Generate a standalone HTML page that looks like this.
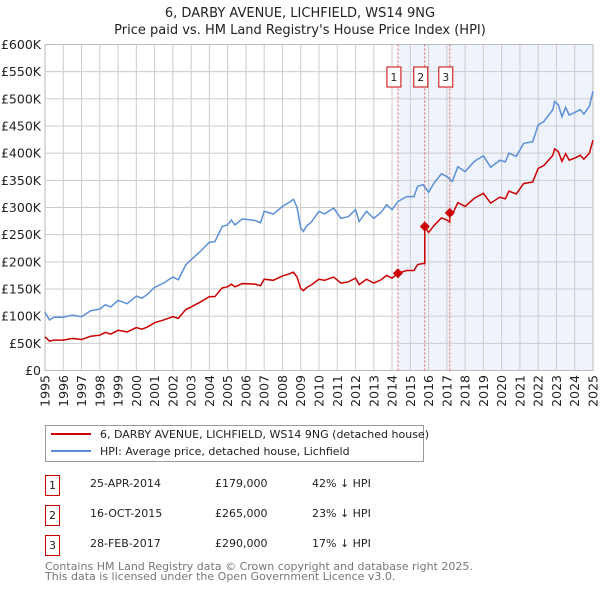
<!DOCTYPE html>
<html><head><meta charset="utf-8"><style>
body{margin:0;background:#fff;font-family:"Liberation Sans","DejaVu Sans",sans-serif;}
svg text{font-family:"DejaVu Sans","Liberation Sans",sans-serif;}
</style></head><body>
<svg id="c" width="600" height="590" viewBox="0 0 600 590" xmlns="http://www.w3.org/2000/svg">
<text x="300" y="17" text-anchor="middle" font-size="13" fill="#222">6, DARBY AVENUE, LICHFIELD, WS14 9NG</text>
<text x="300" y="34" text-anchor="middle" font-size="13" fill="#222">Price paid vs. HM Land Registry's House Price Index (HPI)</text>
<g id="plot"></g>
<g>
<rect x="45.5" y="425.5" width="378" height="36" fill="#fff" stroke="#999"/>
<line x1="51" y1="434" x2="91" y2="434" stroke="#cc0000" stroke-width="2"/>
<text x="100" y="438" font-size="11" fill="#222">6, DARBY AVENUE, LICHFIELD, WS14 9NG (detached house)</text>
<line x1="51" y1="451" x2="91" y2="451" stroke="#5b8fd4" stroke-width="2"/>
<text x="100" y="455" font-size="11" fill="#222">HPI: Average price, detached house, Lichfield</text>
</g>
<g font-size="11" fill="#222">
<rect x="45.5" y="475.5" width="14" height="20" fill="none" stroke="#cc0000"/><text x="52.5" y="489" text-anchor="middle">1</text>
<text x="90" y="487">25-APR-2014</text><text x="215" y="487">£179,000</text><text x="312" y="487">42% ↓ HPI</text>
<rect x="45.5" y="505.5" width="14" height="20" fill="none" stroke="#cc0000"/><text x="52.5" y="519" text-anchor="middle">2</text>
<text x="90" y="517">16-OCT-2015</text><text x="215" y="517">£265,000</text><text x="312" y="517">23% ↓ HPI</text>
<rect x="45.5" y="535.5" width="14" height="20" fill="none" stroke="#cc0000"/><text x="52.5" y="549" text-anchor="middle">3</text>
<text x="90" y="547">28-FEB-2017</text><text x="215" y="547">£290,000</text><text x="312" y="547">17% ↓ HPI</text>
</g>
<text x="45" y="570" font-size="11" fill="#777">Contains HM Land Registry data © Crown copyright and database right 2025.</text>
<text x="45" y="580" font-size="11" fill="#777">This data is licensed under the Open Government Licence v3.0.</text>
</svg>
<script>
const hpiYears=[1995,1995.25,1995.5,1996,1996.5,1997,1997.5,1998,1998.3,1998.6,1999,1999.5,2000,2000.3,2000.6,2001,2001.5,2002,2002.3,2002.7,2003,2003.5,2004,2004.3,2004.7,2005,2005.2,2005.4,2005.8,2006.5,2006.8,2007,2007.5,2008,2008.3,2008.6,2008.8,2009,2009.15,2009.3,2009.6,2010,2010.3,2010.8,2011.2,2011.6,2012,2012.2,2012.6,2013,2013.4,2013.7,2014,2014.32,2014.8,2015.2,2015.4,2015.7,2016,2016.3,2016.7,2017,2017.3,2017.6,2018,2018.5,2019,2019.4,2019.9,2020.2,2020.4,2020.8,2021.2,2021.7,2022,2022.3,2022.8,2022.9,2023.1,2023.3,2023.5,2023.7,2024,2024.3,2024.5,2024.8,2025];
const hpiValues=[107,93,98,98,102,99,110,113,121,117,129,123,137,133,140,153,161,172,167,194,204,219,236,237,265,268,277,268,279,276,272,293,288,302,308,315,300,262,256,265,274,293,288,299,280,283,296,274,293,280,291,305,296,311,320,320,339,342,328,345,362,357,348,375,366,385,395,374,387,384,400,394,418,421,452,458,480,495,489,467,484,470,475,480,472,486,514];
const priceYears=[1995,1995.25,1995.5,1996,1996.5,1997,1997.5,1998,1998.3,1998.6,1999,1999.5,2000,2000.3,2000.6,2001,2001.5,2002,2002.3,2002.7,2003,2003.5,2004,2004.3,2004.7,2005,2005.2,2005.4,2005.8,2006.5,2006.8,2007,2007.5,2008,2008.3,2008.6,2008.8,2009,2009.15,2009.3,2009.6,2010,2010.3,2010.8,2011.2,2011.6,2012,2012.2,2012.6,2013,2013.4,2013.7,2014,2014.32,2014.8,2015.2,2015.4,2015.7,2015.79,2015.79,2016,2016.3,2016.7,2017,2017.16,2017.16,2017.3,2017.6,2018,2018.5,2019,2019.4,2019.9,2020.2,2020.4,2020.8,2021.2,2021.7,2022,2022.3,2022.8,2022.9,2023.1,2023.3,2023.5,2023.7,2024,2024.3,2024.5,2024.8,2025];
const priceValues=[62,54,56,56,59,57,63,65,70,67,74,71,79,76,80,88,93,99,96,112,117,126,136,136,152,154,159,154,160,159,156,168,166,174,177,181,172,151,147,152,158,168,166,172,161,163,170,158,168,161,167,175,170,179,184,184,195,197,197,265,254,267,281,277,273,290,287,309,302,317,326,308,319,316,330,325,344,347,372,377,396,408,403,385,399,387,391,396,389,400,424];
const saleYears=[2014.32,2015.79,2017.16];
const saleValues=[179,265,290];
const saleLabels=["1","2","3"];
const yTicks=[0,50,100,150,200,250,300,350,400,450,500,550,600];
const yTickLabels=["£0","£50K","£100K","£150K","£200K","£250K","£300K","£350K","£400K","£450K","£500K","£550K","£600K"];
const xTicks=[1995,1996,1997,1998,1999,2000,2001,2002,2003,2004,2005,2006,2007,2008,2009,2010,2011,2012,2013,2014,2015,2016,2017,2018,2019,2020,2021,2022,2023,2024,2025];

const X0=45,X1=593,Y0=370.5,Y1=44.5;
const xs=y=>X0+(y-1995)/30*(X1-X0);
const ys=v=>Y0-v/600*(Y0-Y1);
const NS="http://www.w3.org/2000/svg";
const g=document.getElementById('plot');
function mk(t,a,p){const e=document.createElementNS(NS,t);for(const k in a)e.setAttribute(k,a[k]);(p||g).appendChild(e);return e;}
const shade=mk('rect',{x:xs(saleYears[0]),y:Y1,width:X1-xs(saleYears[0]),height:Y0-Y1,fill:'#eef3fc'});


yTicks.forEach((v,i)=>{
  const l=mk('line',{x1:X0,x2:X1,y1:ys(v),y2:ys(v),stroke:'#ccc','stroke-width':1});
  
  
  const t=mk('text',{x:41,y:ys(v)+4.5,'text-anchor':'end','font-size':12.5,fill:'#222'});
  t.textContent=yTickLabels[i];
  
  
});
xTicks.forEach(yr=>{
  const x=xs(yr);
  const l=mk('line',{x1:x,x2:x,y1:Y1,y2:Y0,stroke:'#ccc','stroke-width':1});
  
  
  const t=mk('text',{x:0,y:0,'text-anchor':'end','font-size':12.5,fill:'#222',transform:`translate(${x+4.5},375) rotate(-90)`});
  t.textContent=String(yr);
  
  
});
const border=mk('rect',{x:X0,y:Y1,width:X1-X0,height:Y0-Y1,fill:'none',stroke:'#bbb'});


saleYears.forEach((yr,i)=>{
  const x=xs(yr);
  const l=mk('line',{x1:x,x2:x,y1:Y1,y2:Y0,stroke:'#e06060','stroke-dasharray':'2,2','stroke-width':1});
  
  
  const r=mk('rect',{x:x-11,y:67,width:14,height:20,fill:'#fff',stroke:'#cc0000'});
  
  
  const t=mk('text',{x:x-4,y:81,'text-anchor':'middle','font-size':11,fill:'#222'});
  t.textContent=saleLabels[i];
  
  
});
const hp=mk('polyline',{points:hpiYears.map((y,i)=>xs(y)+','+ys(hpiValues[i])).join(' '),fill:'none',stroke:'#5b8fd4','stroke-width':1.5});


const pp=mk('polyline',{points:priceYears.map((y,i)=>xs(y)+','+ys(priceValues[i])).join(' '),fill:'none',stroke:'#cc0000','stroke-width':1.5});


saleYears.forEach((yr,i)=>{
  const x=xs(yr),y=ys(saleValues[i]);
  const d=mk('path',{d:`M${x},${y-5}L${x+5},${y}L${x},${y+5}L${x-5},${y}Z`,fill:'#cc0000'});
  
  
});
</script>
</body></html>
